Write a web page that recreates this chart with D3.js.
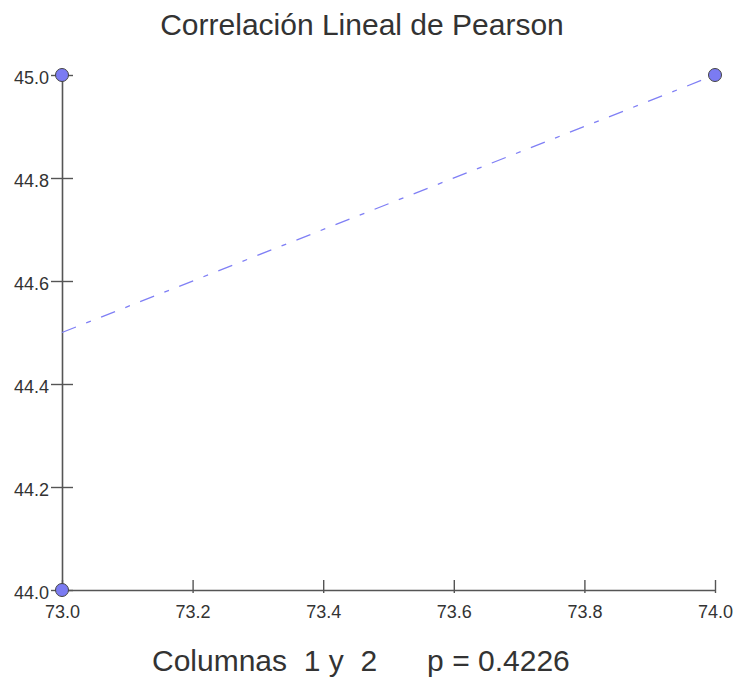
<!DOCTYPE html>
<html>
<head>
<meta charset="utf-8">
<script src="https://cdn.jsdelivr.net/npm/d3@7"></script>
<style>
  html, body { margin: 0; padding: 0; background: #fff; }
  svg text { font-family: "Liberation Sans", Arial, sans-serif; fill: #333; }
</style>
</head>
<body>
<svg id="chart" width="737" height="683"></svg>
<script>
// Paired observations (column 1 vs column 2)
const col1 = [73, 73, 74];
const col2 = [45, 44, 45];
const xTicks = [73.0, 73.2, 73.4, 73.6, 73.8, 74.0];
const yTicks = [44.0, 44.2, 44.4, 44.6, 44.8, 45.0];
const title = "Correlación Lineal de Pearson";
const subtitle = "Columnas  1 y  2      p = 0.4226";

const svg = d3.select("#chart");
const x = d3.scaleLinear().domain([73, 74]).range([62, 715]);
const y = d3.scaleLinear().domain([44, 45]).range([590, 75]);

// Least-squares fit of col2 on col1
const mx = d3.mean(col1), my = d3.mean(col2);
const sxy = d3.sum(col1, (v, i) => (v - mx) * (col2[i] - my));
const sxx = d3.sum(col1, v => (v - mx) * (v - mx));
const slope = sxy / sxx, intercept = my - slope * mx;
const fit = x.domain().map(v => [v, intercept + slope * v]);

// Axes with ticks crossing the axis line
const xAxis = d3.axisBottom(x).tickValues(xTicks).tickFormat(d3.format(".1f"))
  .tickSizeOuter(0);
const gx = svg.append("g").attr("transform", `translate(0,${y(44)})`).call(xAxis);
gx.selectAll(".tick line").attr("y1", 3).attr("y2", -10);
gx.selectAll(".tick text").attr("y", 15).attr("dy", "0.71em");

const yAxis = d3.axisLeft(y).tickValues(yTicks).tickFormat(d3.format(".1f"))
  .tickSizeOuter(0);
const gy = svg.append("g").attr("transform", `translate(${x(73)},0)`).call(yAxis);
gy.selectAll(".tick line").attr("x1", -11).attr("x2", 11);
gy.selectAll(".tick text").attr("x", -13).attr("dy", "0.45em");

[gx, gy].forEach(g => {
  g.select(".domain").attr("stroke", "#555").attr("stroke-width", 1.6);
  g.selectAll(".tick line").attr("stroke", "#555").attr("stroke-width", 1.4);
  g.selectAll(".tick text").style("font-size", "18px").attr("fill", "#444")
    .style("font-family", "'Liberation Sans', Arial, sans-serif");
});

// Regression line (dash-dot)
svg.append("path")
  .datum(fit)
  .attr("d", d3.line().x(d => x(d[0])).y(d => y(d[1])))
  .attr("fill", "none")
  .attr("stroke", "#7f7ff5")
  .attr("stroke-width", 1.3)
  .attr("stroke-dasharray", "15,11,5,11");

// Observed points
svg.append("g").selectAll("circle")
  .data(col1.map((v, i) => [v, col2[i]]))
  .join("circle")
  .attr("cx", d => x(d[0]))
  .attr("cy", d => y(d[1]))
  .attr("r", 6.5)
  .attr("fill", "#7b7bf2")
  .attr("stroke", "#444")
  .attr("stroke-width", 1);

// Title and caption
svg.append("text").attr("x", 362).attr("y", 35).attr("text-anchor", "middle")
  .style("font-size", "30px").text(title);
svg.append("text").attr("x", 152).attr("y", 671)
  .style("font-size", "30px").style("white-space", "pre").attr("xml:space", "preserve")
  .text(subtitle);
</script>
</body>
</html>
